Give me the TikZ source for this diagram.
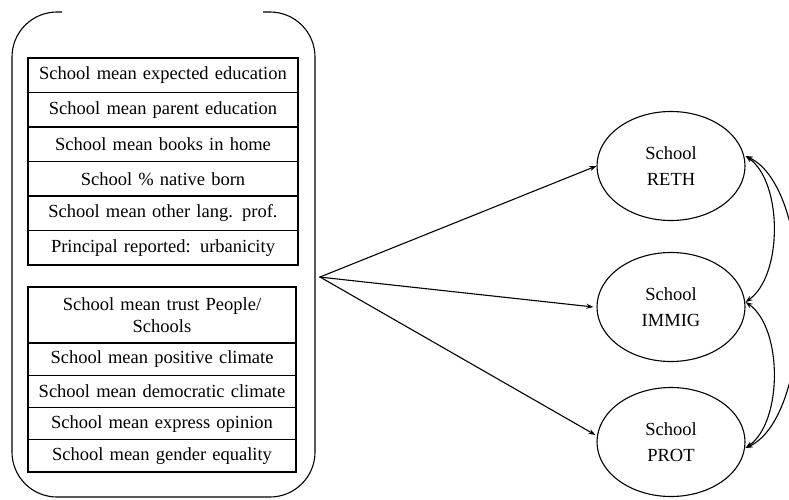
\documentclass[tikz,border=0pt]{standalone}
\usepackage{fontspec}
\setmainfont{Liberation Serif}
\usetikzlibrary{shapes.geometric,arrows.meta}
\begin{document}
\begin{tikzpicture}[x=1pt,y=-1pt,
  line width=1.1pt,
  rowbox/.style={draw, rectangle, inner sep=0pt, minimum width=270pt, text width=266pt, align=center,
    font=\rmfamily\fontsize{18.5}{22}\selectfont},
  lat/.style={draw, ellipse, inner sep=0pt, minimum width=148pt, minimum height=109pt, align=center,
    font=\rmfamily\fontsize{18.5}{26}\selectfont},
  arr/.style={-{Stealth[length=7pt,width=5pt]}},
  darr/.style={{Stealth[length=7pt,width=5pt]}-{Stealth[length=7pt,width=5pt]}}
]
\useasboundingbox (0,0) rectangle (789,500);
% outer bracket
\draw[rounded corners=45pt] (62,12) -- (12,12) -- (12,497) -- (315,497) -- (315,12) -- (263,12);
% group 1
\node[rowbox, minimum height=34.5pt] (a1) at (163,75.25) {School mean expected education};
\node[rowbox, minimum height=34.5pt] (a2) at (163,109.75) {School mean parent education};
\node[rowbox, minimum height=34.5pt] (a3) at (163,144.25) {School mean books in home};
\node[rowbox, minimum height=34.5pt] (a4) at (163,178.75) {School \% native born};
\node[rowbox, minimum height=34.5pt] (a5) at (163,213.25) {School mean other lang. prof.};
\node[rowbox, minimum height=34.5pt] (a6) at (163,247.75) {Principal reported: urbanicity};
% group 2
\node[rowbox, minimum width=268pt, minimum height=56pt] (b1) at (162,315) {School mean trust People/\\Schools};
\node[rowbox, minimum width=268pt, minimum height=32.25pt] (b2) at (162,359.125) {School mean positive climate};
\node[rowbox, minimum width=268pt, minimum height=32.25pt] (b3) at (162,391.375) {School mean democratic climate};
\node[rowbox, minimum width=268pt, minimum height=32.25pt] (b4) at (162,423.625) {School mean express opinion};
\node[rowbox, minimum width=268pt, minimum height=32.25pt] (b5) at (162,455.875) {School mean gender equality};
% latent variables
\node[lat] (reth) at (671,166) {School\\RETH};
\node[lat] (immig) at (671,307) {School\\IMMIG};
\node[lat] (prot) at (671,442) {School\\PROT};
% source point
\coordinate (src) at (320,277);
\draw[arr] (src) -- (reth.west);
\draw[arr] ([xshift=-1pt]src) -- ([xshift=-3pt]immig.west);
\draw[arr] (src) -- ([xshift=-1pt,yshift=7pt]prot.west);
% correlations
\draw[darr] ([yshift=10pt]reth.east) to[out=-35,in=35,looseness=0.8] ([yshift=5pt]immig.east);
\draw[darr] ([yshift=5pt]immig.east) to[out=-35,in=35,looseness=0.8] ([yshift=-6pt]prot.east);
\draw[darr] ([yshift=10pt]reth.east) to[out=-25,in=25,looseness=0.68] ([yshift=-6pt]prot.east);
\end{tikzpicture}
\end{document}
